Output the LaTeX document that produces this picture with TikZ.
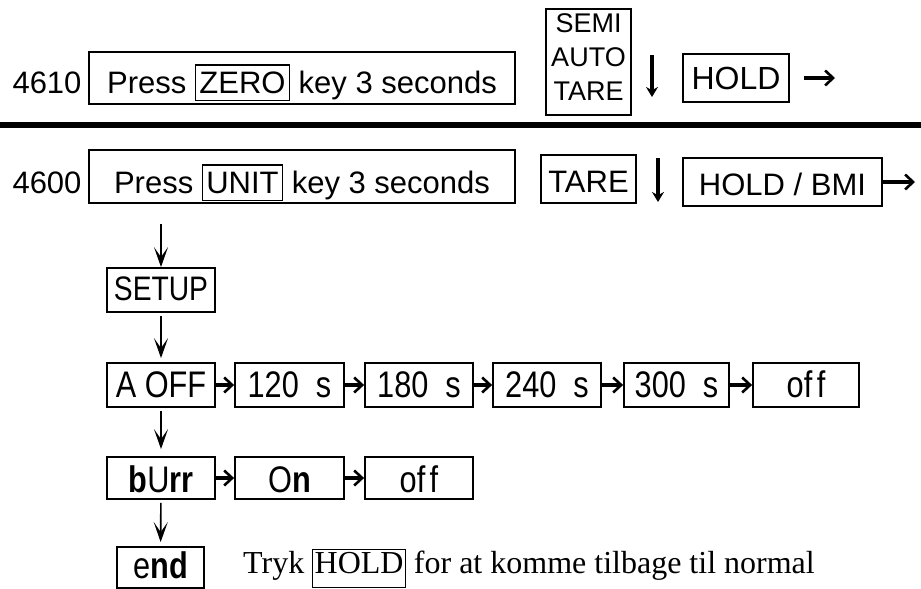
\documentclass[tikz,border=0pt]{standalone}
\usepackage{fontspec}
\setmainfont{Liberation Sans}
\newfontfamily\serifface{Liberation Serif}
\newfontfamily\condface[FakeStretch=0.83]{Liberation Sans}
\usetikzlibrary{arrows.meta}
\newcommand\kbox[1]{{\setlength\fboxsep{3pt}\setlength\fboxrule{1.5pt}\fbox{\rule[-0.12em]{0pt}{0.9em}#1}}}
\newcommand\tbox[1]{{\setlength\fboxsep{1.5pt}\setlength\fboxrule{0.9pt}\fbox{\rule[-12.5pt]{0pt}{22.5pt}#1}}}
\tikzset{
  frame/.style={draw, line width=1.8pt, inner xsep=0pt, inner ysep=0pt, anchor=base},
  txt/.style={inner sep=0pt, anchor=base},
  cond/.style={font=\condface\fontsize{37}{44}\selectfont},
  rowbox/.style={frame, cond, text height=34pt, text depth=10pt},
  lowbox/.style={frame, cond, text height=35pt, text depth=7pt},
  rarr/.style={line width=4pt, -{Straight Barb[length=8pt,width=15pt,line width=2.6pt]}},
  darr/.style={line width=1.6pt, -{Stealth[length=20pt,width=14pt,inset=10pt]}},
  tdarr/.style={line width=4.5pt, -{Stealth[length=10pt,width=12pt]}}
}
\begin{document}
\begin{tikzpicture}[x=1pt,y=-1pt,font=\fontsize{31}{37}\selectfont]
\useasboundingbox (0,0) rectangle (921,589);

% ---- row 1 (4610)
\node[txt] (n4610) at (47,93) {4610};
\node[frame, minimum width=426pt, text height=41pt, text depth=11pt] (p1) at (302,93) {Press \kbox{ZERO} key 3 seconds};
\node[frame, anchor=north, minimum width=85pt, inner ysep=5pt, align=center, font=\fontsize{27}{34}\selectfont] (semi) at (588.5,8) {SEMI\\AUTO\\TARE\rule[-9pt]{0pt}{9pt}};
\coordinate (a1s) at (652,55);
\coordinate (a1e) at (652,97);
\draw[tdarr] (a1s) -- (a1e);
\node[frame, minimum width=106pt, text height=35pt, text depth=13pt, font=\fontsize{32}{38}\selectfont] (hold1) at (736,89) {HOLD};
\coordinate (r1) at (835,78);
\draw[rarr, shorten <=14pt] (hold1.east) -- (r1);

% ---- separator
\coordinate (hl) at (0,125);
\coordinate (hr) at (921,125);
\draw[line width=6pt] (hl) -- (hr);

% ---- row 2 (4600)
\node[txt] (n4600) at (47,193) {4600};
\node[frame, minimum width=426pt, text height=43pt, text depth=10pt] (p2) at (302,193) {Press \kbox{UNIT} key 3 seconds};
\node[frame, minimum width=95pt, text height=37pt, text depth=11pt] (tare) at (588.5,192) {TARE};
\coordinate (a2s) at (658,158);
\coordinate (a2e) at (658,202);
\draw[tdarr] (a2s) -- (a2e);
\node[frame, minimum width=199pt, text height=37pt, text depth=11pt] (hb) at (782.5,195) {HOLD / BMI};
\coordinate (r2) at (915,182);
\draw[rarr] (hb.east) -- (r2);

% ---- setup chain
\node[frame, minimum width=108pt, text height=32pt, text depth=12pt, font=\condface\fontsize{34}{40}\selectfont] (setup) at (161,300) {SETUP};
\draw[darr, shorten <=20pt] (setup.north |- p2.south) -- (setup.north);

\node[rowbox, minimum width=108pt] (aoff) at (161,397) {A OFF};
\draw[darr, shorten <=3pt, shorten >=4pt] (setup) -- (aoff);
\node[rowbox, minimum width=109pt] (t120) at (289.5,397) {120~ s};
\node[rowbox, minimum width=108pt] (t180) at (419,397) {180~ s};
\node[rowbox, minimum width=108pt] (t240) at (547,397) {240~ s};
\node[rowbox, minimum width=105pt] (t300) at (676.5,397) {300~ s};
\node[rowbox, minimum width=106pt] (toff) at (806,397) {of\kern0.12em f};
\draw[rarr] (aoff) -- (t120);
\draw[rarr] (t120) -- (t180);
\draw[rarr] (t180) -- (t240);
\draw[rarr] (t240) -- (t300);
\draw[rarr] (t300) -- (toff);

\node[lowbox, minimum width=108pt] (burr) at (161,492) {{\bfseries b}U{\bfseries rr}};
\draw[darr, shorten <=3pt, shorten >=7pt] (aoff) -- (burr);
\node[lowbox, minimum width=109pt] (on) at (289.5,492) {O{\bfseries n}};
\node[lowbox, minimum width=108pt] (off2) at (419,492) {of\kern0.12em f};
\draw[rarr] (burr) -- (on);
\draw[rarr] (on) -- (off2);

\node[frame, cond, minimum width=87pt, text height=31pt, text depth=10pt] (endb) at (160.5,578) {e{\bfseries nd}};
\draw[darr, shorten <=3pt, shorten >=4pt] (burr) -- (endb);

\node[anchor=base west, inner sep=0pt, font=\serifface\fontsize{32}{38}\selectfont] (note) at (243,573) {Tryk \tbox{HOLD} for at komme tilbage til normal};
\end{tikzpicture}
\end{document}
